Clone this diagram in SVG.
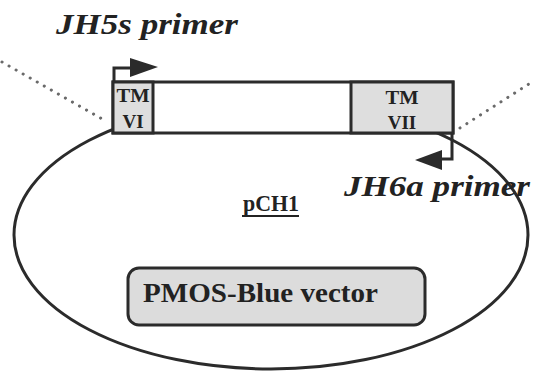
<svg xmlns="http://www.w3.org/2000/svg" width="534" height="377" viewBox="0 0 534 377">
<defs>
<style>
.ln{fill:none;stroke:#2b2b2b;stroke-width:3}
.dot{fill:none;stroke:#6a6a6a;stroke-width:3;stroke-linecap:round;stroke-dasharray:0.1 8}
.grey{fill:#dedede;stroke:#2b2b2b;stroke-width:3}
.t{font-family:"Liberation Serif","Times New Roman",serif;font-weight:bold;fill:#222}
.it{font-style:italic}
.ah{fill:#2b2b2b}
</style>
</defs>
<rect width="534" height="377" fill="#ffffff"/>
<g id="connectors">
<path class="dot" d="M2 62 L104 120"/>
<path class="dot" d="M460 128 L532 82"/>
<ellipse id="plasmid" class="ln" cx="271" cy="235" rx="257" ry="134"/>
<path class="ln" d="M114 81 V68 H133"/>
<polygon class="ah" points="130,58 158,67 130,77"/>
<path class="ln" d="M452 134 V159 H440"/>
<polygon class="ah" points="442,150 415,160 442,170"/>
</g>
<g id="insert">
<rect x="113" y="82" width="340" height="51" fill="#ffffff" stroke="#2b2b2b" stroke-width="3"/>
</g>
<g id="tm6">
<rect class="grey" x="113" y="82" width="40" height="51"/>
<text class="t" x="133" y="102" font-size="19" text-anchor="middle" textLength="33" lengthAdjust="spacingAndGlyphs">TM</text>
<text class="t" x="133" y="128" font-size="19" text-anchor="middle">VI</text>
</g>
<g id="tm7">
<rect class="grey" x="351" y="82" width="102" height="51"/>
<text class="t" x="402" y="104" font-size="19" text-anchor="middle" textLength="33" lengthAdjust="spacingAndGlyphs">TM</text>
<text class="t" x="402" y="129" font-size="19" text-anchor="middle">VII</text>
</g>
<g id="jh5s">
<text class="t it" x="56" y="34" font-size="30" textLength="182" lengthAdjust="spacingAndGlyphs">JH5s primer</text>
</g>
<g id="jh6a">
<text class="t it" x="344" y="196" font-size="30" textLength="186" lengthAdjust="spacingAndGlyphs">JH6a primer</text>
</g>
<g id="pch1">
<text class="t" x="243" y="211" font-size="24" textLength="56" lengthAdjust="spacingAndGlyphs">pCH1</text>
<line x1="242" y1="216" x2="299" y2="216" stroke="#222" stroke-width="2"/>
</g>
<g id="pmos">
<rect x="128" y="268" width="297" height="57" rx="11" fill="#dcdcdc" stroke="#2b2b2b" stroke-width="3"/>
<text class="t" x="143" y="302" font-size="28" textLength="235" lengthAdjust="spacingAndGlyphs">PMOS-Blue vector</text>
</g>
</svg>
